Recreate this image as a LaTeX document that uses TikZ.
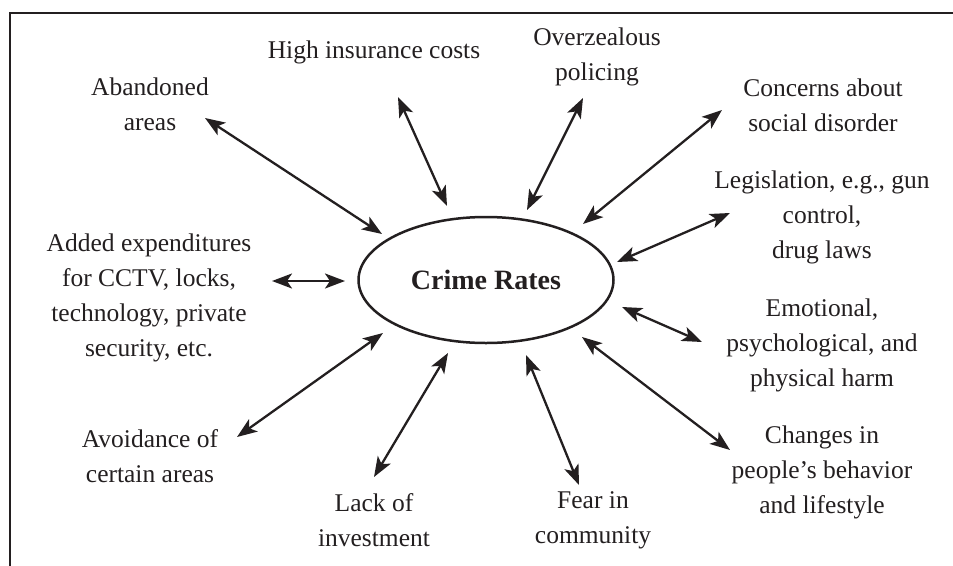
\documentclass[tikz,border=0pt]{standalone}
\usepackage{fontspec}
\setmainfont{Liberation Serif}
\usetikzlibrary{arrows.meta,shapes.geometric}
\definecolor{ink}{HTML}{231F20}
\begin{document}
\begin{tikzpicture}[x=1pt,y=-1pt,
  lbl/.style={align=center,text=ink,inner sep=0pt,font=\fontsize{25.5}{35}\selectfont},
  link/.style={draw=ink,line width=2.3pt,{Stealth[length=20pt,width=15pt,inset=5pt]}-{Stealth[length=20pt,width=15pt,inset=5pt]}},
  frameline/.style={draw=ink,line width=2.5pt}]
\useasboundingbox (0,0) rectangle (953,565);
% frame
\coordinate (fbl) at (10,566);
\coordinate (ftl) at (10,13);
\coordinate (ftr) at (954,13);
\draw[frameline] (fbl) -- (ftl) -- (ftr);
% centre
\node[ellipse,draw=ink,line width=2.5pt,minimum width=255pt,minimum height=126pt,inner sep=0pt,
      text=ink,font=\fontsize{28}{30}\selectfont\bfseries] (crime) at (486,280) {Crime Rates};
% labels
\node[lbl] (aband) at (150,104) {Abandoned\\areas};
\node[lbl] (insur) at (374,52) {High insurance costs};
\node[lbl] (overz) at (597,57) {Overzealous\\policing};
\node[lbl] (conc) at (823,105) {Concerns about\\social disorder};
\node[lbl] (legis) at (822,217) {Legislation, e.g., gun\\control,\\drug laws};
\node[lbl] (emot) at (822,345) {Emotional,\\psychological, and\\physical harm};
\node[lbl] (chang) at (822,472) {Changes in\\people’s behavior\\and lifestyle};
\node[lbl] (fear) at (593,520) {Fear in\\community};
\node[lbl] (lack) at (374,520) {Lack of\\investment};
\node[lbl] (avoid) at (150,456) {Avoidance of\\certain areas};
\node[lbl] (added) at (149,298) {Added expenditures\\for CCTV, locks,\\technology, private\\security, etc.};
% arrow ends
\coordinate (aband-e) at (205,118);  \coordinate (aband-c) at (382,234);
\coordinate (insur-e) at (398,97);   \coordinate (insur-c) at (447,206);
\coordinate (overz-e) at (583,98);   \coordinate (overz-c) at (527,210);
\coordinate (conc-e) at (722,110);   \coordinate (conc-c) at (583,224);
\coordinate (legis-e) at (730,213);  \coordinate (legis-c) at (617,262);
\coordinate (emot-e) at (702,342);   \coordinate (emot-c) at (622,307);
\coordinate (chang-e) at (730,450);  \coordinate (chang-c) at (582,337);
\coordinate (fear-e) at (579,485);   \coordinate (fear-c) at (526,355);
\coordinate (lack-e) at (374,477);   \coordinate (lack-c) at (448,353);
\coordinate (avoid-e) at (237,437);  \coordinate (avoid-c) at (383,333);
\coordinate (added-e) at (272,281);  \coordinate (added-c) at (345,281);
\foreach \n in {aband,insur,overz,conc,legis,emot,chang,fear,lack,avoid,added}
  \draw[link] (\n-e) -- (\n-c);
\end{tikzpicture}
\end{document}
